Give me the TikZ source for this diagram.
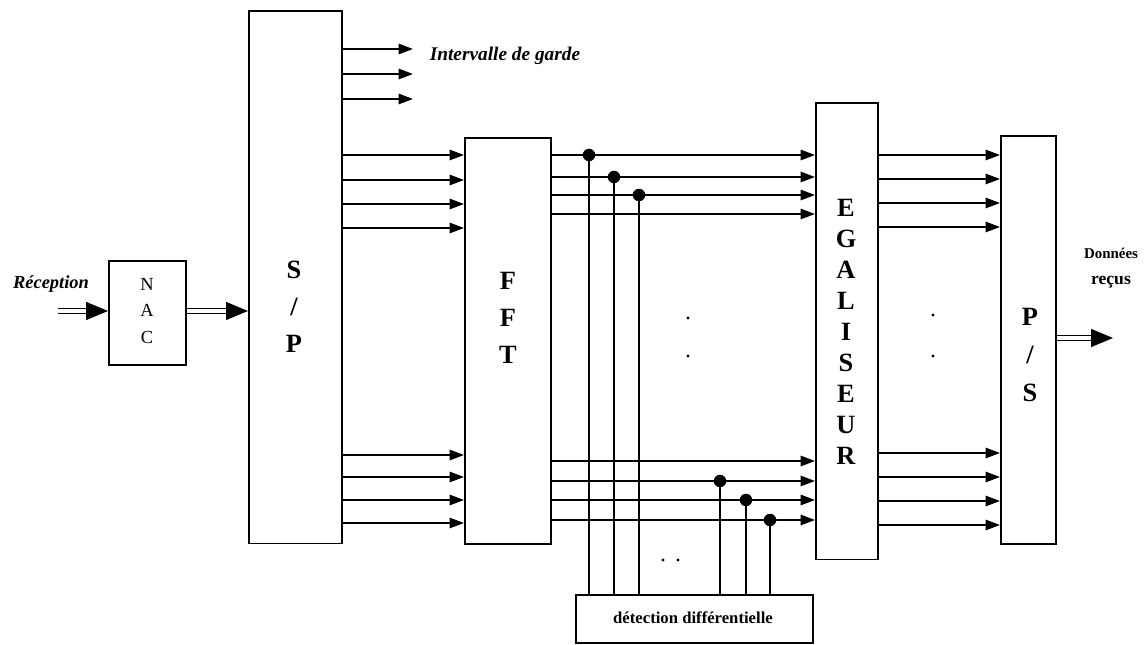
\documentclass[tikz,border=0pt]{standalone}
\usepackage{fontspec}
\setmainfont{Liberation Serif}
\usetikzlibrary{arrows.meta, positioning}

\begin{document}
\begin{tikzpicture}[x=0.02cm, y=-0.02cm,
    box/.style={draw, line width=0.9pt, inner sep=0pt, anchor=north west},
    sig/.style={line width=0.95pt, -{Triangle[length=0.29cm, width=0.21cm]}},
    bus/.style={double, double distance=2.2pt, line width=0.8pt, -{Triangle[length=0.44cm, width=0.36cm]}},
    tap/.style={circle, fill, inner sep=0pt, minimum size=0.25cm},
    big/.style={font=\bfseries\fontsize{15}{21}\selectfont, align=center}]
    \useasboundingbox (0,0) rectangle (1144,645);

    % blocs
    \node[box, minimum width=1.54cm, minimum height=2.08cm] (nac) at (108,260) {};
    \node[box, minimum width=1.86cm, minimum height=10.66cm] (sp) at (248,10) {};
    \node[box, minimum width=1.72cm, minimum height=8.12cm] (fft) at (464,137) {};
    \node[box, minimum width=1.24cm, minimum height=9.14cm] (eg) at (815,102) {};
    \node[box, minimum width=1.10cm, minimum height=8.16cm] (ps) at (1000,135) {};
    \node[box, minimum width=4.74cm, minimum height=0.96cm] (det) at (575,594) {};

    % textes des blocs
    \node[align=center, font=\fontsize{10.5}{15.3}\selectfont] at (147,311) {N\\A\\C};
    \node[big] at (294,307) {S\\/\\P};
    \node[big] at (508,318) {F\\F\\T};
    \node[big, font=\bfseries\fontsize{15}{17.6}\selectfont] at (846,332) {E\\G\\A\\L\\I\\S\\E\\U\\R};
    \node[big, font=\bfseries\fontsize{15}{21.5}\selectfont] at (1030,355) {P\\/\\S};
    \node[font=\bfseries\fontsize{9.5}{11}\selectfont] at (693,618) {détection différentielle};

    % libelles
    \node[font=\bfseries\itshape\fontsize{10.5}{12}\selectfont] at (51,284) {Réception};
    \node[font=\bfseries\itshape\fontsize{11}{12}\selectfont] at (505,56) {Intervalle de garde};
    \node[align=center, font=\bfseries\fontsize{8.5}{15}\selectfont] at (1111,268) {Données\\{\fontsize{10}{15}\selectfont reçus}};

    % entree et sortie
    \coordinate (rx) at (58,311);
    \coordinate (out) at (1113,338);
    \coordinate (garde) at (413,49);
    \draw[bus] (rx) -- (nac.west |- rx);
    \draw[bus] (nac.east |- rx) -- (sp.west |- rx);
    \draw[bus] (ps.east |- out) -- (out);

    % intervalle de garde
    \foreach \y in {49,74,99}
        \draw[sig] (sp.east |- 0,\y) -- (garde |- 0,\y);

    % sous-porteuses
    \foreach \y in {155,180,204,228,455,477,500,523}
        \draw[sig] (sp.east |- 0,\y) -- (fft.west |- 0,\y);
    \foreach \y in {155,177,195,214,461,481,500,520}
        \draw[sig] (fft.east |- 0,\y) -- (eg.west |- 0,\y);
    \foreach \y in {155,179,203,227,453,477,501,525}
        \draw[sig] (eg.east |- 0,\y) -- (ps.west |- 0,\y);

    % prises vers la detection differentielle
    \foreach \x/\y [count=\i] in {589/155,614/177,639/195,720/481,746/500,770/520} {
        \node[tap] (t\i) at (\x,\y) {};
        \draw[line width=0.95pt] (t\i.center) -- (det.north -| t\i);
    }

    % points de suspension
    \foreach \x/\y in {688/318,688/356,933/315,933/356,663/560,678/560}
        \fill (\x,\y) circle (1.7);
\end{tikzpicture}
\end{document}
